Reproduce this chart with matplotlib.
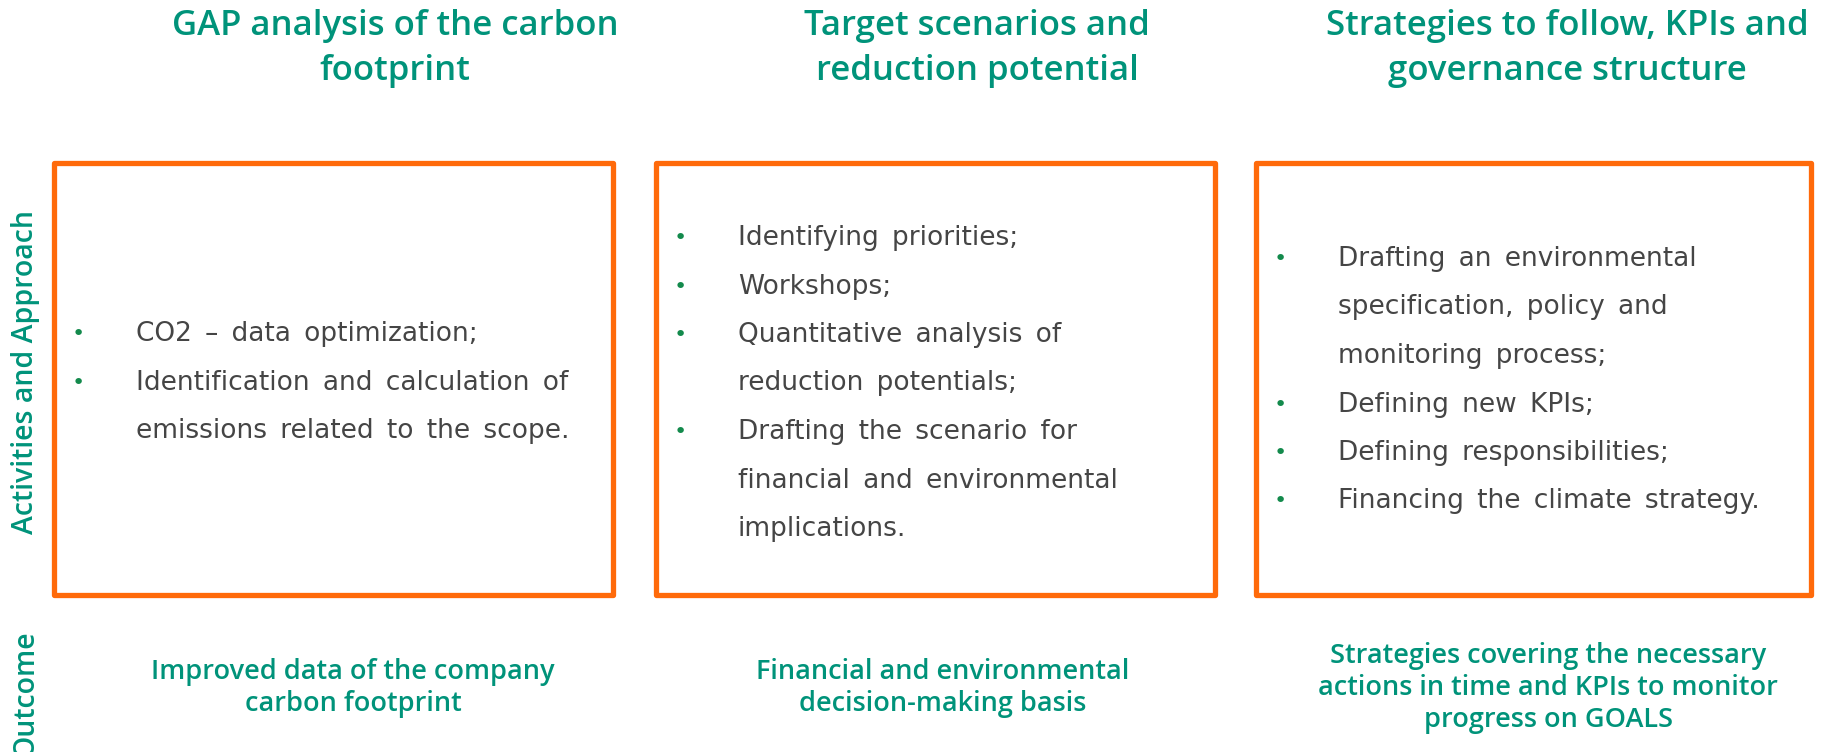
import matplotlib.pyplot as plt
from matplotlib.patches import Rectangle

# column headers, bullet items (each item is a list of wrapped lines) and outcomes
titles = [
    ['GAP analysis of the carbon', 'footprint'],
    ['Target scenarios and', 'reduction potential'],
    ['Strategies to follow, KPIs and', 'governance structure'],
]
activities = [
    [['CO2 – data optimization;'],
     ['Identification and calculation of', 'emissions related to the scope.']],
    [['Identifying priorities;'],
     ['Workshops;'],
     ['Quantitative analysis of', 'reduction potentials;'],
     ['Drafting the scenario for', 'financial and environmental', 'implications.']],
    [['Drafting an environmental', 'specification, policy and', 'monitoring process;'],
     ['Defining new KPIs;'],
     ['Defining responsibilities;'],
     ['Financing the climate strategy.']],
]
outcomes = [
    ['Improved data of the company', 'carbon footprint'],
    ['Financial and environmental', 'decision-making basis'],
    ['Strategies covering the necessary', 'actions in time and KPIs to monitor', 'progress on GOALS'],
]
row_labels = ['Activities and Approach', 'Outcome']

TEAL = '#00937a'
ORANGE = '#ff6a0a'
GREY = '#454545'
DOT = '#138a4c'

# layout in pixel units
box_x = [(54, 613), (656, 1215), (1256, 1811)]
box_y = (163, 595)
title_cx = [395, 977, 1567]
title_y = 26
title_dy = 45
bullet_y0 = [334, 238, 259]
bullet_dy = 48.5
outcome_cx = [353, 943, 1548]
outcome_y0 = [672, 672, 656]
outcome_dy = 32

plt.rcParams['font.family'] = ['Open Sans', 'DejaVu Sans']

fig = plt.figure(figsize=(18.49, 7.52), dpi=100)
ax = fig.add_axes([0, 0, 1, 1])
ax.set_xlim(0, 1849)
ax.set_ylim(752, 0)
ax.axis('off')

for i in range(3):
    for j, line in enumerate(titles[i]):
        ax.text(title_cx[i], title_y + j * title_dy, line, ha='center', va='center',
                fontsize=25, color=TEAL, fontweight='semibold')

    x0, x1 = box_x[i]
    ax.add_patch(Rectangle((x0, box_y[0]), x1 - x0, box_y[1] - box_y[0],
                           fill=False, edgecolor=ORANGE, linewidth=3.8, joinstyle='round'))

    k = 0
    for item in activities[i]:
        for j, line in enumerate(item):
            y = bullet_y0[i] + k * bullet_dy
            if j == 0:
                ax.text(x0 + 24, y, '•', ha='center', va='center', fontsize=16,
                        color=DOT, family='DejaVu Sans')
            # the source uses a wide word gap, an en space stands in for it
            ax.text(x0 + 82, y, line.replace(' ', '\u2002'), ha='left', va='center',
                    fontsize=19, color=GREY, family='DejaVu Sans')
            k += 1

    for j, line in enumerate(outcomes[i]):
        ax.text(outcome_cx[i], outcome_y0[i] + j * outcome_dy, line, ha='center', va='center',
                fontsize=19.5, color=TEAL, fontweight='semibold')

ax.text(26, 372, row_labels[0], rotation=90, ha='center', va='center',
        fontsize=20.5, color=TEAL, fontweight='semibold')
ax.text(26, 757, row_labels[1], rotation=90, ha='center', va='bottom',
        fontsize=20.5, color=TEAL, fontweight='semibold')

fig.savefig('out.png', dpi=100, facecolor='white')
